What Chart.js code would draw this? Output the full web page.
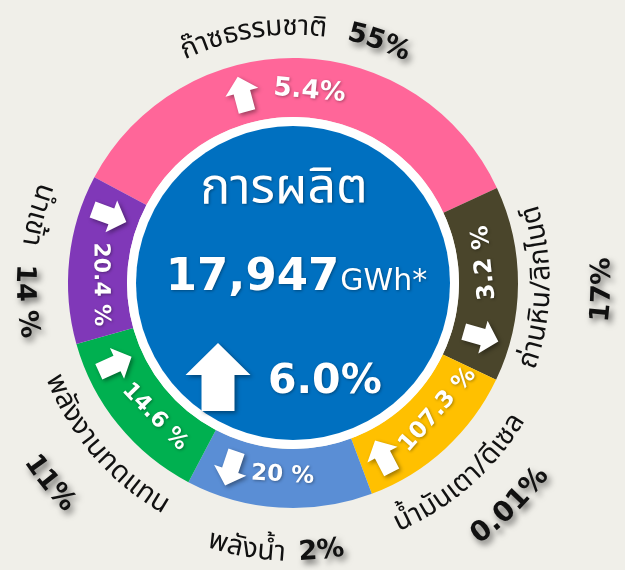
<!DOCTYPE html>
<html><head><meta charset="utf-8">
<script src="https://cdn.jsdelivr.net/npm/chart.js@4/dist/chart.umd.min.js"></script>
<style>html,body{margin:0;padding:0;background:#F0EFE9;}canvas{display:block}</style>
</head><body>
<canvas id="c" width="625" height="570"></canvas>
<script>
// ---- data ----
const categories = ['ก๊าซธรรมชาติ', 'ถ่านหิน/ลิกไนต์', 'น้ำมันเตา/ดีเซล', 'พลังน้ำ', 'พลังงานทดแทน', 'นำเข้า'];
const shareLabels = ['55%', '17%', '0.01%', '2%', '11%', '14 %'];
const changeLabels = ['5.4%', '3.2 %', '107.3 %', '20 %', '14.6 %', '20.4 %'];
const changeDirections = ['up', 'down', 'up', 'down', 'up', 'up'];
const arcSizes = [127, 50.5, 44, 48.2, 46.6, 43.7]; // arc widths (degrees) as drawn in the infographic
const centerTitle = 'การผลิต';
const totalValue = '17,947';
const totalUnit = 'GWh*';
const totalChange = '6.0%';
const totalDirection = 'up';

// ---- styling / layout ----
const colors = ['#FF6699', '#4A452B', '#FFC000', '#5A8ED5', '#00B050', '#8038B8'];
const THAI = '"Noto Sans Thai","Leelawadee UI",Tahoma,"DejaVu Sans",sans-serif';
const NUM = '"DejaVu Sans",Verdana,sans-serif';
const place = [
  {style: 'top',    arrowF: 0.37,  textF: 0.527, nameF: 0.417, nameR: 254, pctF: 0.643, pctR: 256},
  {style: 'bottom', arrowF: 0.81,  textF: 0.376, nameF: 0.515, nameR: 251, pctF: 0.52,  pctR: 310},
  {style: 'bottom', arrowF: 0.84,  textF: 0.357, nameF: 0.53,  nameR: 264, pctF: 0.46,  pctR: 313},
  {style: 'bottom', arrowF: 0.81,  textF: 0.49,  nameF: 0.63,  nameR: 272, pctF: 0.30,  pctR: 270},
  {style: 'bottom', arrowF: 0.81,  textF: 0.39,  nameF: 0.46,  nameR: 259, pctF: 0.49,  pctR: 316},
  {style: 'bottom', arrowF: 0.82,  textF: 0.35,  nameF: 0.70,  nameR: 267, pctF: 0.27,  pctR: 269}
];
const pctFont = ['bold 27px ' + NUM, 'bold 27px ' + NUM, 'bold 28px ' + NUM, 'bold 27px ' + NUM, 'bold 27px ' + NUM, 'bold 27px ' + NUM];
const changeFont = ['bold 26px ' + NUM, 'bold 24px ' + NUM, 'bold 23px ' + NUM, 'bold 23px ' + NUM, 'bold 22px ' + NUM, 'bold 22px ' + NUM];

const segmenter = (typeof Intl !== 'undefined' && Intl.Segmenter) ? new Intl.Segmenter('th', {granularity: 'grapheme'}) : null;
function clusters(t) { return segmenter ? Array.from(segmenter.segment(t), s => s.segment) : Array.from(t); }

function setShadow(ctx, kind) {
  if (kind === 'outer') { ctx.shadowColor = 'rgba(0,0,0,0.55)'; ctx.shadowBlur = 6; ctx.shadowOffsetX = 3; ctx.shadowOffsetY = 4; }
  else if (kind === 'inner') { ctx.shadowColor = 'rgba(0,0,0,0.35)'; ctx.shadowBlur = 3; ctx.shadowOffsetX = 1; ctx.shadowOffsetY = 1; }
}

function curvedText(ctx, text, cx, cy, r, midA, style, font, color, shadow) {
  ctx.save();
  ctx.font = font; ctx.fillStyle = color; ctx.textAlign = 'center'; ctx.textBaseline = 'middle';
  setShadow(ctx, shadow);
  const seg = clusters(text);
  const widths = seg.map(s => ctx.measureText(s).width);
  const total = widths.reduce((a, b) => a + b, 0);
  const dir = style === 'top' ? 1 : -1;
  let a = midA - dir * (total / r) / 2;
  seg.forEach((s, i) => {
    const w = widths[i] / r;
    const ac = a + dir * w / 2;
    ctx.save();
    ctx.translate(cx + r * Math.cos(ac), cy + r * Math.sin(ac));
    ctx.rotate(style === 'top' ? ac + Math.PI / 2 : ac - Math.PI / 2);
    ctx.fillText(s, 0, 0);
    ctx.restore();
    a += dir * w;
  });
  ctx.restore();
}

function drawArrow(ctx, x, y, rot, dirn, L, W, Hh, S) {
  ctx.save();
  ctx.translate(x, y);
  ctx.rotate(rot + (dirn === 'down' ? Math.PI : 0));
  ctx.beginPath();
  ctx.moveTo(0, -L / 2);
  ctx.lineTo(W / 2, -L / 2 + Hh);
  ctx.lineTo(S / 2, -L / 2 + Hh);
  ctx.lineTo(S / 2, L / 2);
  ctx.lineTo(-S / 2, L / 2);
  ctx.lineTo(-S / 2, -L / 2 + Hh);
  ctx.lineTo(-W / 2, -L / 2 + Hh);
  ctx.closePath();
  ctx.fillStyle = '#FFFFFF';
  ctx.shadowColor = 'rgba(0,0,0,0.4)'; ctx.shadowBlur = 4; ctx.shadowOffsetX = 2; ctx.shadowOffsetY = 2;
  ctx.fill();
  ctx.restore();
}

const infoPlugin = {
  id: 'info',
  afterDatasetsDraw(chart) {
    const ctx = chart.ctx;
    const arcs = chart.getDatasetMeta(0).data;
    const cx = arcs[0].x, cy = arcs[0].y;
    const inner = arcs[0].innerRadius, outer = arcs[0].outerRadius;
    // white ring + blue centre
    ctx.save();
    ctx.beginPath(); ctx.arc(cx, cy, inner, 0, Math.PI * 2); ctx.fillStyle = '#FFFFFF'; ctx.fill();
    ctx.beginPath(); ctx.arc(cx, cy, inner - 9, 0, Math.PI * 2); ctx.fillStyle = '#0070C0'; ctx.fill();
    ctx.restore();

    const mid = (inner + outer) / 2;
    arcs.forEach((arc, i) => {
      const p = place[i];
      const s = arc.startAngle, e = arc.endAngle;
      const at = f => s + (e - s) * f;
      const rotOf = a => p.style === 'top' ? a + Math.PI / 2 : a - Math.PI / 2;
      // arrow
      const aa = at(p.arrowF), ar = mid;
      drawArrow(ctx, cx + ar * Math.cos(aa), cy + ar * Math.sin(aa), rotOf(aa), changeDirections[i], 36, 34, 16, 17);
      // change label (straight, rotated)
      const ta = at(p.textF), tr = mid - 3;
      ctx.save();
      ctx.translate(cx + tr * Math.cos(ta), cy + tr * Math.sin(ta));
      ctx.rotate(rotOf(ta));
      ctx.font = changeFont[i];
      ctx.fillStyle = '#FFFFFF'; ctx.textAlign = 'center'; ctx.textBaseline = 'middle';
      setShadow(ctx, 'inner');
      ctx.fillText(changeLabels[i], 0, 0);
      ctx.restore();
      // category name (curved)
      curvedText(ctx, categories[i], cx, cy, p.nameR, at(p.nameF), p.style, '28px ' + THAI, '#111111', null);
      // share (curved, bold, shadow)
      curvedText(ctx, shareLabels[i], cx, cy, p.pctR, at(p.pctF), p.style, pctFont[i], '#111111', 'outer');
    });

    // centre texts
    ctx.save();
    ctx.fillStyle = '#FFFFFF';
    ctx.textBaseline = 'alphabetic';
    ctx.textAlign = 'center';
    ctx.font = '50px ' + THAI;
    setShadow(ctx, 'inner');
    ctx.fillText(centerTitle, cx - 9, cy - 80);
    ctx.font = 'bold 45px ' + NUM;
    const w1 = ctx.measureText(totalValue).width;
    ctx.font = '30px ' + NUM;
    const w2 = ctx.measureText(totalUnit).width;
    const x0 = cx + 3 - (w1 + w2) / 2;
    ctx.textAlign = 'left';
    ctx.font = 'bold 45px ' + NUM;
    ctx.fillText(totalValue, x0, cy + 7);
    ctx.font = '30px ' + NUM;
    ctx.fillText(totalUnit, x0 + w1 + 1, cy + 7);
    ctx.font = 'bold 41px ' + NUM;
    ctx.fillText(totalChange, cx - 25, cy + 110);
    ctx.restore();
    drawArrow(ctx, cx - 75, cy + 94, 0, totalDirection, 68, 65, 32, 33);
  }
};

new Chart(document.getElementById('c'), {
  type: 'doughnut',
  data: {
    labels: categories,
    datasets: [{data: arcSizes, backgroundColor: colors, borderWidth: 0, hoverOffset: 0, offset: 0}]
  },
  options: {
    responsive: false,
    animation: false,
    rotation: -62,
    cutout: 166,
    layout: {padding: {left: 68, top: 58, right: 107, bottom: 62}},
    plugins: {legend: {display: false}, tooltip: {enabled: false}},
    events: []
  },
  plugins: [infoPlugin]
});
</script>
</body></html>
